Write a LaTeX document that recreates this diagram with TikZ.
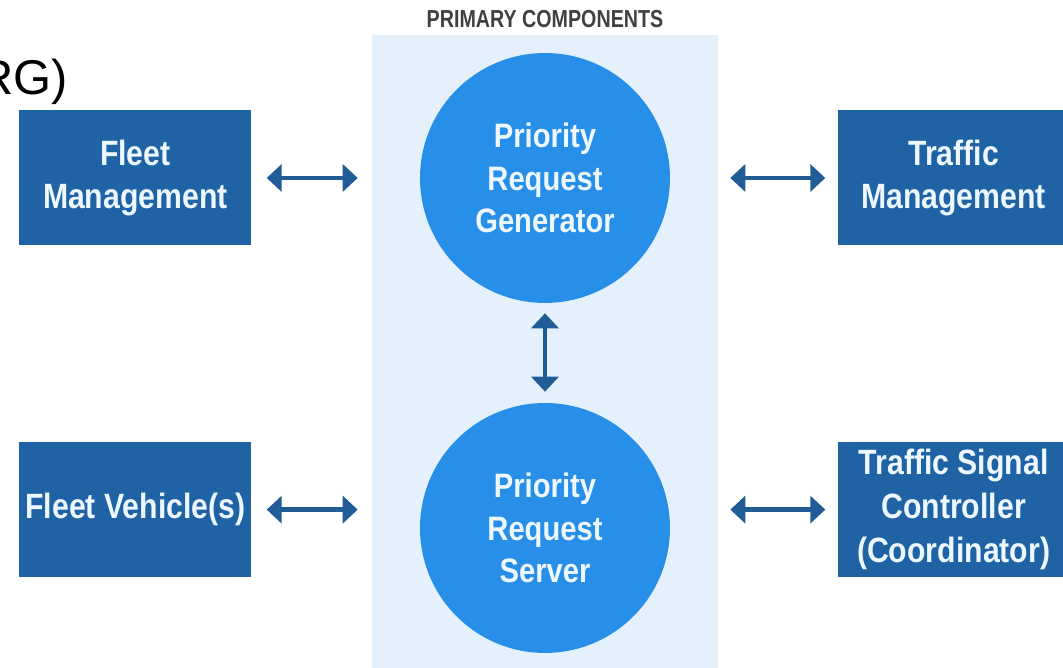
\documentclass[tikz,border=0pt]{standalone}
\usepackage{fontspec}
\usepackage{xcolor}
\usepackage{tikz}
\usetikzlibrary{positioning,fit,arrows.meta,backgrounds}

\newfontfamily\condfont[FakeStretch=0.86]{Liberation Sans}
\newfontfamily\narrowfont[FakeStretch=0.8]{Liberation Sans}
\newfontfamily\plainfont{Liberation Sans}

\definecolor{boxblue}{RGB}{31,99,165}
\definecolor{compblue}{RGB}{40,143,232}
\definecolor{panelblue}{RGB}{228,241,252}
\definecolor{arrowblue}{RGB}{33,92,150}
\definecolor{boxtext}{RGB}{236,247,255}
\definecolor{titlegray}{RGB}{64,64,64}

\begin{document}
\begin{tikzpicture}[
			x=0.02cm, y=0.02cm,
			box/.style={rectangle, fill=boxblue, text=boxtext, align=center, inner sep=0pt, minimum width=4.64cm, minimum height=2.7cm, font=\condfont\bfseries\fontsize{20pt}{25pt}\selectfont},
			comp/.style={circle, fill=compblue, text=boxtext, align=center, inner sep=0pt, minimum size=5cm, font=\condfont\bfseries\fontsize{19.3pt}{24pt}\selectfont},
			panelbox/.style={rectangle, fill=panelblue, inner xsep=0.95cm, inner ysep=0.36cm},
			ttl/.style={inner sep=0pt, text=titlegray, font=\narrowfont\bfseries\fontsize{14pt}{16pt}\selectfont},
			link/.style={draw=arrowblue, line width=0.085cm, <->, >={Triangle[length=0.3cm,width=0.54cm]}}
			]
			\useasboundingbox (0,0) rectangle (1063,668);
			
			%==================== heading ====================
			\node[anchor=base west, inner sep=0pt, font=\plainfont\fontsize{27.8pt}{30pt}\selectfont] (heading) at (-22,573) {RG)};
			
			%==================== primary components ====================
			\node[comp] (prg) at (545,490) {Priority\\Request\\Generator};
			\node[comp] (prs) at (545,140) {Priority\\Request\\Server};
			
			\begin{scope}[on background layer]
				\node[panelbox, fit=(prg)(prs)] (panel) {};
			\end{scope}
			\node[ttl, above=0.12cm of panel] (primary) {PRIMARY COMPONENTS};
			
			\draw[link, shorten <=0.2cm, shorten >=0.22cm] (prg) -- (prs);
			
			%==================== fleet side ====================
			\node[box, left=3.36cm of prg] (fleetmgmt) {Fleet\\Management};
			\node[box, below=3.92cm of fleetmgmt] (fleetveh) {Fleet Vehicle(s)};
			
			\draw[link, shorten <=0.3cm, shorten >=1.24cm] (fleetmgmt.east) -- (fleetmgmt.east -| prg.west);
			\draw[link, shorten <=0.3cm, shorten >=1.24cm] (fleetveh.east) -- (fleetveh.east -| prs.west);
			
			%==================== traffic side ====================
			\node[box, right=3.34cm of prg] (trafmgmt) {Traffic\\Management};
			\node[box, below=3.92cm of trafmgmt] (tsc) {Traffic Signal\\Controller\\(Coordinator)};
			
			\draw[link, shorten <=1.2cm, shorten >=0.24cm] (trafmgmt.west -| prg.east) -- (trafmgmt.west);
			\draw[link, shorten <=1.2cm, shorten >=0.24cm] (tsc.west -| prs.east) -- (tsc.west);
			
		\end{tikzpicture}
\end{document}
